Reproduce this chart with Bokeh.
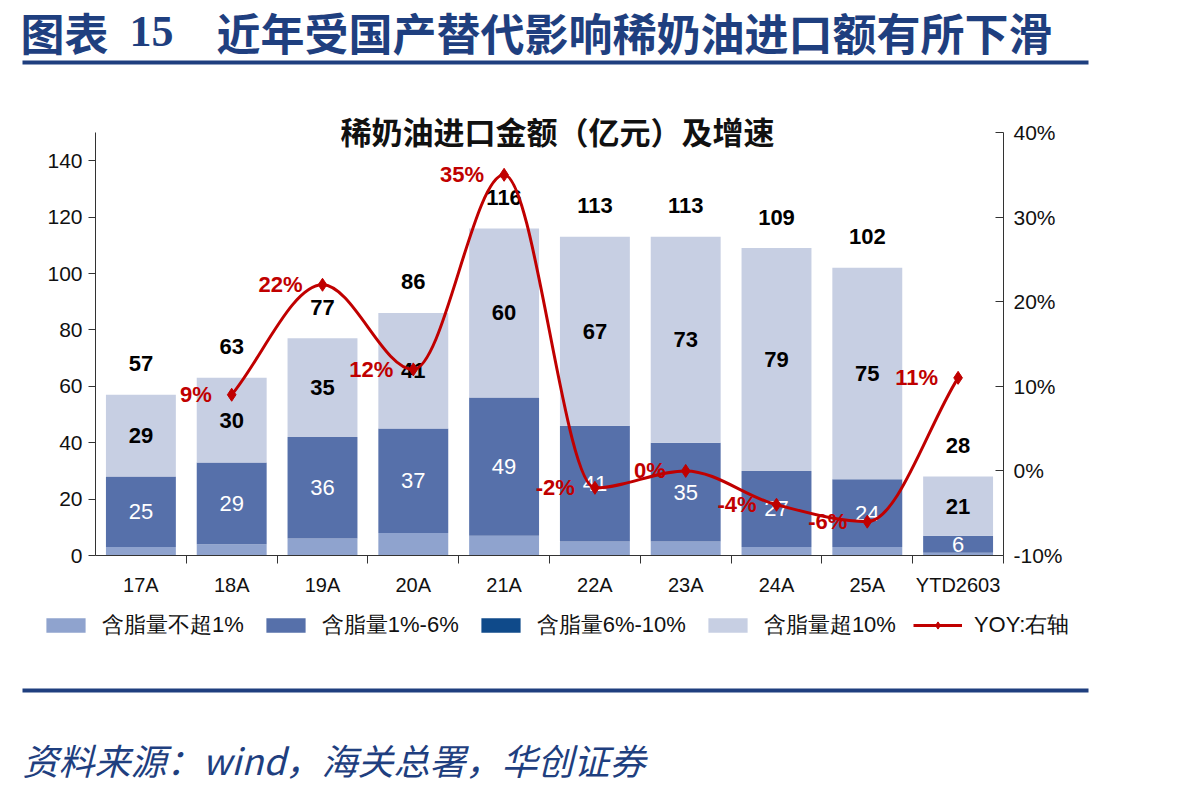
from bokeh.plotting import figure
from bokeh.models import (Range1d, LinearAxis, FixedTicker, PrintfTickFormatter,
                          ColumnDataSource, Legend, LegendItem)
from bokeh.core.properties import value
from bokeh.embed import file_html
from bokeh.resources import INLINE

# ---- data (亿元) ----
categories = ["17A", "18A", "19A", "20A", "21A", "22A", "23A", "24A", "25A", "YTD2603"]
fat_le1 = [3, 4, 6, 8, 7, 5, 5, 3, 3, 1]              # 含脂量不超1%
fat_1_6 = [25, 29, 36, 37, 49, 41, 35, 27, 24, 6]       # 含脂量1%-6%
fat_6_10 = [0, 0, 0, 0, 0, 0, 0, 0, 0, 0]              # 含脂量6%-10%
fat_gt10 = [29, 30, 35, 41, 60, 67, 73, 79, 75, 21]     # 含脂量超10%
yoy = [None, 9, 22, 12, 35, -2, 0, -4, -6, 11]          # YOY (%)
left_ticks = [0, 20, 40, 60, 80, 100, 120, 140]
right_ticks = [-10, 0, 10, 20, 30, 40]

series_names = ["含脂量不超1%", "含脂量1%-6%", "含脂量6%-10%", "含脂量超10%"]
colors = ["#8FA3CE", "#5670AA", "#0F4A8A", "#C7CFE3"]
RED = "#C00000"
NAVY = "#1F3F7F"
AX_FONT = "Liberation Sans"
AX_COLOR = "#333333"
CJK = "Noto Sans CJK SC"

W, H = 1198, 792
# plot area in page pixels: category band 95..1003, value axis 0..150 over 555..132
FL, FR, FB, FT = 95, 1003, 555, 132
L_LO, L_HI = 0, 150
R_LO, R_HI = -10, 40
XMIN, XMAX = -0.5, len(categories) - 0.5


def px2x(px):
    return XMIN + (px - FL) * (XMAX - XMIN) / (FR - FL)


def py2y(py):
    return L_LO + (FB - py) * (L_HI - L_LO) / (FB - FT)


def py2r(py):
    return R_LO + (FB - py) * (R_HI - R_LO) / (FB - FT)


# the frame fills the whole page; axes are pinned to the plot-area edges
p = figure(width=W, height=H, x_range=Range1d(px2x(0), px2x(W)),
           y_range=Range1d(py2y(H), py2y(0)), output_backend="svg",
           toolbar_location=None, min_border=0, x_axis_type=None, y_axis_type=None)
p.outline_line_color = None
p.xgrid.visible = False
p.ygrid.visible = False
p.extra_y_ranges = {"yoy": Range1d(py2r(H), py2r(0))}


def style_axis(ax, size):
    ax.axis_line_color = AX_COLOR
    ax.major_tick_line_color = AX_COLOR
    ax.minor_tick_line_color = AX_COLOR
    ax.major_label_text_font = AX_FONT
    ax.major_label_text_font_size = size
    ax.major_label_text_color = "#111111"
    ax.minor_tick_out = 0
    ax.minor_tick_in = 0


ya = LinearAxis(ticker=FixedTicker(ticks=left_ticks), bounds=(L_LO, L_HI),
                fixed_location=XMIN)
style_axis(ya, "21px")
ya.major_tick_out = 7
ya.major_tick_in = 0
ya.major_label_standoff = 6
p.add_layout(ya, "left")

ra = LinearAxis(y_range_name="yoy", ticker=FixedTicker(ticks=right_ticks),
                formatter=PrintfTickFormatter(format="%d%%"), bounds=(R_LO, R_HI),
                fixed_location=XMAX)
style_axis(ra, "21px")
ra.major_tick_out = 0
ra.major_tick_in = 8
ra.major_label_standoff = 10
p.add_layout(ra, "right")

xs = list(range(len(categories)))
xa = LinearAxis(ticker=FixedTicker(ticks=xs, minor_ticks=[i + 0.5 for i in xs]),
                bounds=(XMIN, XMAX), fixed_location=L_LO)
style_axis(xa, "20px")
xa.major_label_overrides = {i: c for i, c in enumerate(categories)}
xa.major_tick_out = 0
xa.major_tick_in = 0
xa.minor_tick_out = 8
xa.major_label_standoff = 10
p.add_layout(xa, "below")

# ---- page header ----
p.text(x=[px2x(20)], y=[py2y(31)], text=["图表"], text_font=value(CJK),
       text_font_size="44px", text_font_style="bold", text_color=NAVY,
       text_baseline="middle")
p.text(x=[px2x(129)], y=[py2y(31)], text=["15"], text_font=value("Liberation Serif"),
       text_font_size="44px", text_font_style="bold", text_color=NAVY,
       text_baseline="middle")
p.text(x=[px2x(216)], y=[py2y(31)], text=["近年受国产替代影响稀奶油进口额有所下滑"],
       text_font=value(CJK), text_font_size="44px", text_font_style="bold",
       text_color=NAVY, text_baseline="middle")
rule_top = [60, 688]
p.quad(left=px2x(22), right=px2x(1088), top=[py2y(t) for t in rule_top],
       bottom=[py2y(t + 4) for t in rule_top], fill_color=NAVY, line_color=None)

# chart title
p.text(x=[px2x(557)], y=[py2y(130)], text=["稀奶油进口金额（亿元）及增速"],
       text_font=value(CJK), text_font_size="31px", text_font_style="bold",
       text_color="#111111", text_align="center", text_baseline="middle")

# ---- stacked bars ----
totals = [a + b + c + d for a, b, c, d in zip(fat_le1, fat_1_6, fat_6_10, fat_gt10)]
src = ColumnDataSource(dict(x=xs, s0=fat_le1, s1=fat_1_6, s2=fat_6_10, s3=fat_gt10))
bars = p.vbar_stack(["s0", "s1", "s2", "s3"], x="x", width=0.77, color=colors,
                    line_color=None, source=src)

cum2 = [a + b + c for a, b, c in zip(fat_le1, fat_1_6, fat_6_10)]
mid_dark = [a + b / 2 for a, b in zip(fat_le1, fat_1_6)]
mid_light = [c + d / 2 for c, d in zip(cum2, fat_gt10)]
p.text(x=xs, y=mid_dark, text=[str(v) for v in fat_1_6], text_color="white",
       text_font=value(AX_FONT), text_font_size="22px", text_align="center",
       text_baseline="middle")
p.text(x=xs, y=mid_light, text=[str(v) for v in fat_gt10], text_color="black",
       text_font=value(AX_FONT), text_font_style="bold", text_font_size="22px",
       text_align="center", text_baseline="middle")
p.text(x=xs, y=totals, text=[str(v) for v in totals], text_color="black",
       text_font=value(AX_FONT), text_font_style="bold", text_font_size="22px",
       text_align="center", text_baseline="middle", y_offset=-31)

# ---- YOY smoothed line: Bezier segments with flat tangents at turning points ----
yx = [x for x, v in zip(xs, yoy) if v is not None]
yv = [v for v in yoy if v is not None]
n = len(yx)
sec = [(yv[i + 1] - yv[i]) / (yx[i + 1] - yx[i]) for i in range(n - 1)]
tan = [sec[0]]
for i in range(1, n - 1):
    a, b = sec[i - 1], sec[i]
    tan.append(2 * a * b / (a + b) if a * b > 0 else 0.0)
tan.append(sec[-1])
seg = dict(x0=[], y0=[], x1=[], y1=[], cx0=[], cy0=[], cx1=[], cy1=[])
for i in range(n - 1):
    dx = (yx[i + 1] - yx[i]) / 3
    seg["x0"].append(yx[i]); seg["y0"].append(yv[i])
    seg["x1"].append(yx[i + 1]); seg["y1"].append(yv[i + 1])
    seg["cx0"].append(yx[i] + dx); seg["cy0"].append(yv[i] + tan[i] * dx)
    seg["cx1"].append(yx[i + 1] - dx); seg["cy1"].append(yv[i + 1] - tan[i + 1] * dx)
curve = p.bezier(x0="x0", y0="y0", x1="x1", y1="y1", cx0="cx0", cy0="cy0",
                 cx1="cx1", cy1="cy1", source=ColumnDataSource(seg),
                 line_color=RED, line_width=3, y_range_name="yoy")
dots = p.scatter(yx, yv, marker="diamond", size=13, fill_color=RED, line_color=RED,
                 y_range_name="yoy")
p.text(x=yx, y=yv, text=[f"{v}%" for v in yv], text_color=RED,
       text_font=value(AX_FONT), text_font_style="bold", text_font_size="22px",
       text_align="right", text_baseline="middle", x_offset=-20, y_range_name="yoy")

# ---- legend ----
items = [LegendItem(label=series_names[i], renderers=[bars[i]]) for i in range(4)]
items.append(LegendItem(label="YOY:右轴", renderers=[curve, dots]))
legend = Legend(items=items, orientation="horizontal", location=(41, H - 640),
                glyph_width=49, glyph_height=18, label_standoff=12, spacing=17,
                padding=0, margin=0, border_line_color=None, background_fill_alpha=0,
                label_text_font=AX_FONT, label_text_font_size="22px",
                label_text_color="#111111")
p.add_layout(legend)

# ---- source note ----
p.text(x=[px2x(22)], y=[py2y(758)], text=["资料来源：wind，海关总署，华创证券"],
       text_font=value(CJK), text_font_size="36px", text_font_style="italic",
       text_color=NAVY, text_baseline="middle")

open("out.html", "w").write(file_html(p, INLINE))
